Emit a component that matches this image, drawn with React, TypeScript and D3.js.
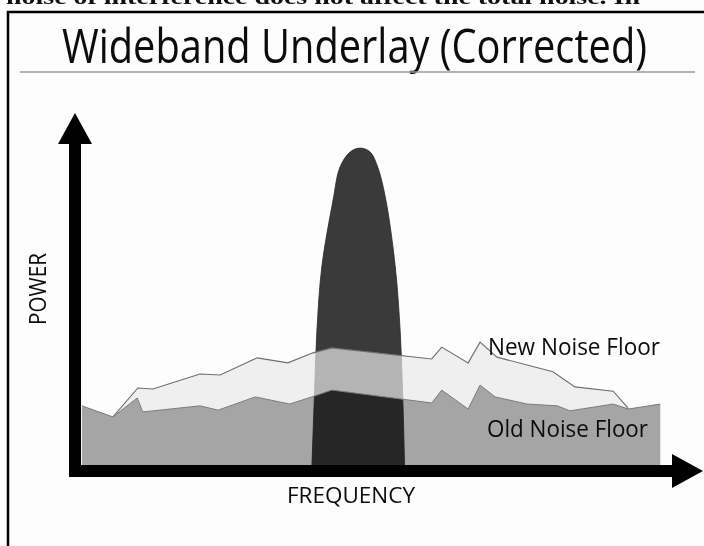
import * as d3 from 'd3';

// frequency / power readings (arbitrary 0-100 units along each axis)
const oldFloorFreq = [1.1, 6.05, 9.9, 10.8, 19.9, 22.8, 28.7, 34.2, 37.7, 40.9, 56.8, 58.4, 62.6, 64.5, 66.9, 72.0, 76.8, 78.8, 85.7, 88.1, 93.2];
const oldFloorPower = [18.2, 15.1, 20.4, 16.5, 18.2, 17.0, 20.7, 18.7, 20.7, 22.6, 19.0, 22.6, 17.3, 24.0, 20.7, 18.7, 18.2, 16.8, 18.7, 17.3, 18.7];

const newFloorFreq = [6.05, 10.0, 12.4, 19.9, 23.1, 29.0, 33.9, 37.9, 40.9, 56.8, 58.4, 62.6, 64.5, 67.2, 76.1, 79.6, 85.7, 87.9, 88.1];
const newFloorPower = [15.1, 23.2, 22.9, 27.1, 26.8, 31.6, 30.2, 33.0, 34.4, 31.3, 34.6, 30.2, 36.0, 31.8, 27.7, 23.5, 22.3, 17.9, 17.3];

// outline of the narrowband signal
const peakFreq = [37.7, 38.1, 38.5, 39.3, 41.1, 42.2, 43.8, 45.4, 47.0, 48.2, 49.5, 51.0, 51.8, 52.2, 52.5];
const peakPower = [0, 19.8, 38.5, 57.0, 75.7, 84.9, 89.1, 90.2, 89.1, 84.9, 75.7, 57.0, 38.5, 19.8, 0];

const title = 'Wideband Underlay (Corrected)';
const bodyText = 'noise of interference does not affect the total noise. In';
const xLabel = 'FREQUENCY';
const yLabel = 'POWER';
const newLabel = 'New Noise Floor';
const oldLabel = 'Old Noise Floor';

const W = 704;
const H = 546;

export default function App() {
  const x = d3.scaleLinear().domain([0, 100]).range([75, 703]);
  const y = d3.scaleLinear().domain([0, 100]).range([471, 113]);

  const oldPts: [number, number][] = oldFloorFreq.map((f, i) => [f, oldFloorPower[i]]);
  const newPts: [number, number][] = newFloorFreq.map((f, i) => [f, newFloorPower[i]]);
  const peakPts: [number, number][] = peakFreq.map((f, i) => [f, peakPower[i]]);

  const line = d3.line<[number, number]>().x(d => x(d[0])).y(d => y(d[1]));
  const oldArea = d3.area<[number, number]>()
    .x(d => x(d[0]))
    .y0(y(0))
    .y1(d => y(d[1]));

  // band between old and new floor: new forward, old back
  const first = newFloorFreq[0];
  const last = newFloorFreq[newFloorFreq.length - 1];
  const oldInBand = oldPts.filter(p => p[0] >= first && p[0] <= last).reverse();
  const bandPath = line([...newPts, ...oldInBand]) + 'Z';

  const peakPath = d3.line<[number, number]>()
    .x(d => x(d[0]))
    .y(d => y(d[1]))
    .curve(d3.curveCatmullRom.alpha(0.5))(peakPts) + 'Z';

  const x0 = x(0), y0 = y(0);
  const xEnd = x(100), yEnd = y(100);
  const bar = 12;
  const head = 17;
  const headLen = 31;

  const font = '"Open Sans", "Noto Sans", sans-serif';

  return (
    <svg width={W} height={H} viewBox={`0 0 ${W} ${H}`}
      style={{ position: 'absolute', left: 0, top: 0, background: '#fdfdfd' }}>
      {/* tail of the page text above the figure, cut by the scan */}
      <text x={6} y={4} fontFamily='"Liberation Serif", serif' fontWeight="bold" fontSize={22}
        textLength={634} lengthAdjust="spacingAndGlyphs" fill="#111">{bodyText}</text>
      <rect x={8} y={12} width={740} height={600} fill="none" stroke="#000" strokeWidth={2.5} />

      <text transform="translate(62,63) scale(1,1.12)" fontFamily={font} fontSize={42} textLength={585}
        lengthAdjust="spacingAndGlyphs" fill="#0c0c0c">{title}</text>
      <line x1={20} x2={695} y1={72} y2={72} stroke="#9a9a9a" strokeWidth={1.6} />

      {/* signal + noise floors */}
      <path d={peakPath} fill="#3a3a3a" stroke="#2a2a2a" strokeWidth={0.8} />
      <path d={oldArea(oldPts) || ''} fill="#a6a6a6" style={{ mixBlendMode: 'multiply' }} />
      <path d={bandPath} fill="#e8e8e8" fillOpacity={0.7} stroke="none" />
      <path d={line(oldPts) || ''} fill="none" stroke="#7a7a7a" strokeWidth={1} />
      <path d={line(newPts) || ''} fill="none" stroke="#6e6e6e" strokeWidth={1.1} />

      {/* axes */}
      <rect x={x0 - bar / 2} y={yEnd + headLen} width={bar} height={y0 - yEnd - headLen + bar / 2} fill="#000" />
      <path d={`M${x0 - head},${yEnd + headLen}L${x0},${yEnd}L${x0 + head},${yEnd + headLen}Z`} fill="#000" />
      <rect x={x0 - bar / 2} y={y0 - bar / 2} width={xEnd - headLen - x0 + bar / 2} height={bar} fill="#000" />
      <path d={`M${xEnd - headLen},${y0 - head}L${xEnd},${y0}L${xEnd - headLen},${y0 + head}Z`} fill="#000" />

      <text x={351} y={503} textAnchor="middle" fontFamily={font} fontSize={22} textLength={128}
        lengthAdjust="spacingAndGlyphs" fill="#0c0c0c">{xLabel}</text>
      <text transform="translate(46,289) rotate(-90)" textAnchor="middle" fontFamily={font} fontSize={24}
        textLength={72} lengthAdjust="spacingAndGlyphs" fill="#0c0c0c">{yLabel}</text>
      <text x={488} y={355} fontFamily={font} fontSize={23} textLength={172}
        lengthAdjust="spacingAndGlyphs" fill="#0c0c0c">{newLabel}</text>
      <text x={487} y={437} fontFamily={font} fontSize={23} textLength={161}
        lengthAdjust="spacingAndGlyphs" fill="#0c0c0c">{oldLabel}</text>
    </svg>
  );
}
